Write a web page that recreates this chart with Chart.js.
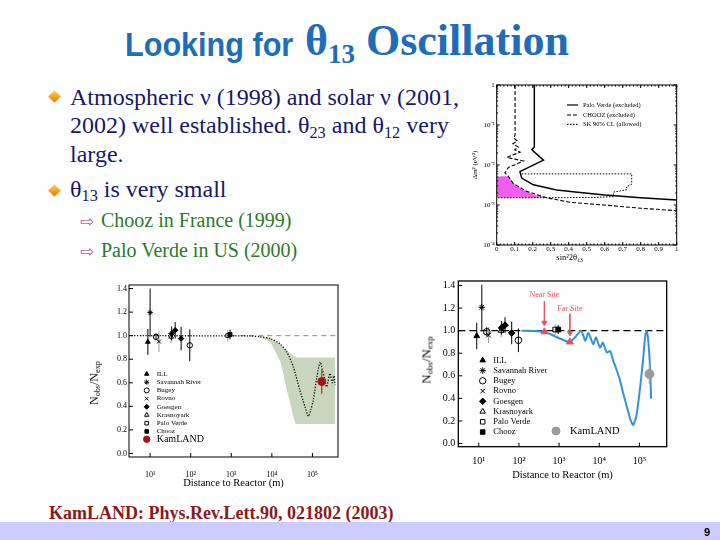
<!DOCTYPE html>
<html><head><meta charset="utf-8">
<script src="https://cdn.jsdelivr.net/npm/chart.js@4.4.1/dist/chart.umd.min.js"></script>
<style>
html,body{margin:0;padding:0;background:#fff;}
#slide{position:relative;width:720px;height:540px;overflow:hidden;background:#fff;font-family:'Liberation Serif','Times New Roman',serif;}
.t{position:absolute;white-space:nowrap;line-height:1;}
canvas{position:absolute;}
.dia{position:absolute;width:9px;height:9px;transform:rotate(45deg);background:linear-gradient(135deg,#ffd27a,#f29a1c 60%,#d97e08);}
.arr{position:absolute;font-family:'DejaVu Sans',sans-serif;font-size:17px;line-height:1;color:#c4559a;}
.b{font-size:24px;color:#17176b;}
.s{font-size:20px;color:#2a7a2a;}
.sb{font-size:0.68em;position:relative;top:0.28em;}
.yt{position:absolute;white-space:nowrap;line-height:1;transform:translate(-50%,-50%) rotate(-90deg);color:#000;}
</style></head><body>
<div id="slide">
<div class="t" style="left:125px;top:27.2px;font:bold 34px/1 'Liberation Sans',Arial,sans-serif;color:#1f6cb8;transform:scaleX(0.9);transform-origin:0 0;">Looking for</div>
<div class="t" style="left:305px;top:19.2px;font:bold 44px/1 'Liberation Serif',serif;color:#1f6cb8;">θ<span style="font-size:27px;position:relative;top:8px;">13</span> Oscillation</div>

<div class="dia" style="left:49.5px;top:92px;"></div>
<div class="t b" style="left:70px;top:84.9px;">Atmospheric ν (1998) and solar ν (2001,</div>
<div class="t b" style="left:70px;top:113.2px;">2002) well established. θ<span class="sb">23</span> and θ<span class="sb">12</span> very</div>
<div class="t b" style="left:70px;top:141.6px;">large.</div>
<div class="dia" style="left:49.5px;top:185.5px;"></div>
<div class="t b" style="left:70px;top:176.6px;">θ<span class="sb">13</span> is very small</div>
<div class="arr" style="left:80px;top:213px;">⇨</div>
<div class="t s" style="left:101px;top:210px;">Chooz in France (1999)</div>
<div class="arr" style="left:80px;top:243px;">⇨</div>
<div class="t s" style="left:101px;top:240px;">Palo Verde in US (2000)</div>

<canvas id="c1" width="219" height="190" style="left:471px;top:78px;width:219px;height:190px;"></canvas>
<canvas id="c2" width="262" height="218" style="left:84px;top:278px;width:262px;height:218px;"></canvas>
<canvas id="c3" width="272" height="212" style="left:404px;top:272px;width:272px;height:212px;"></canvas>

<div class="yt" style="left:93.5px;top:383px;font-size:12px;">N<span class="sb">obs</span>/N<span class="sb">exp</span></div>
<div class="yt" style="left:426px;top:360px;font-size:13px;">N<span class="sb">obs</span>/N<span class="sb">exp</span></div>

<div class="t" style="left:49px;top:503.9px;font-weight:bold;font-size:18px;color:#8b1a1a;">KamLAND: Phys.Rev.Lett.90, 021802 (2003)</div>
<div style="position:absolute;left:0;top:522px;width:720px;height:18px;background:#ccccff;"></div>
<div class="t" style="left:704px;top:526.2px;font:bold 11px 'Liberation Sans',Arial,sans-serif;color:#000;">9</div>
</div>

<script>
// ---------- DATA: top-right exclusion plot (sin^2 2θ13 vs Δm^2) ----------
const sinTicks = [0, 0.1, 0.2, 0.3, 0.4, 0.5, 0.6, 0.7, 0.8, 0.9, 1];
const dm2Ticks = [1e-4, 1e-3, 1e-2, 1e-1, 1];
const pvSin = [0.209, 0.209, 0.195, 0.26, 0.129, 0.139, 0.204, 0.333, 0.45, 0.6, 0.8, 1.0];
const pvDm2 = [1, 0.028, 0.024, 0.0132, 0.0068, 0.0047, 0.0032, 0.00237, 0.00209, 0.00178, 0.00152, 0.00133];
const chSin = [0.102, 0.102, 0.095, 0.115, 0.09, 0.12, 0.1, 0.13, 0.056, 0.148, 0.065, 0.046, 0.065, 0.093, 0.167, 0.28, 0.407, 0.593, 0.8, 1.0];
const chDm2 = [1, 0.0562, 0.0468, 0.0398, 0.0339, 0.0282, 0.024, 0.0209, 0.0155, 0.0126, 0.0087, 0.0063, 0.0052, 0.0034, 0.00219, 0.00151, 0.00117, 0.001, 0.00083, 0.00072];
const skSin = [0.139, 0.75, 0.75, 0.722, 0.722, 0.648, 0.648, 0.55, 0.3, 0];
const skDm2 = [0.006, 0.006, 0.0033, 0.0029, 0.0024, 0.0021, 0.00162, 0.00155, 0.00152, 0.00152];
const pinkSin = [0, 0.035, 0.065, 0.093, 0.13, 0.167, 0.22, 0.28];
const pinkTop = [0.0051, 0.0052, 0.0052, 0.0034, 0.0027, 0.00219, 0.00174, 0.00151];
const pinkBot = [0.00152, 0.00152, 0.00152, 0.00152, 0.00152, 0.00152, 0.00152, 0.00151];
const exclLegend = ['Palo Verde (excluded)', 'CHOOZ (excluded)', 'SK 90% CL (allowed)'];

// ---------- DATA: reactor experiments ----------
const expNames = ['ILL', 'Savannah River', 'Bugey', 'Rovno', 'Goesgen', 'Krasnoyark', 'Palo Verde', 'Chooz'];
const distTicks = [10, 100, 1000, 10000, 100000];
const ratioTicks = [0, 0.2, 0.4, 0.6, 0.8, 1.0, 1.2, 1.4];
// bottom-left plot
const p2Dist  = [[8.8], [10], [14, 95], [16.5], [34, 41.5, 58], [33], [820], [935]];
const p2Ratio = [[0.947], [1.196], [0.99, 0.918], [0.95], [1.018, 1.046, 0.975], [0.99], [1.0], [1.01]];
const p2Err   = [[0.11], [0.205], [0.03, 0.135], [0.09], [0.06, 0.07, 0.1], [0.05], [0.05], [0.04]];
const kamD2 = [170000], kamR2 = [0.611], kamE2 = [0.105];
const p2CurveD = [3, 2884, 5129, 9120, 15850, 23440, 33880, 48980, 66070, 79430, 91200, 104700, 128800, 154900, 173800, 195000, 223900, 269200, 309000, 338800, 363100];
const p2CurveR = [1.0, 0.997, 0.99, 0.975, 0.93, 0.86, 0.735, 0.537, 0.395, 0.316, 0.37, 0.452, 0.65, 0.777, 0.72, 0.65, 0.565, 0.68, 0.60, 0.66, 0.58];
const bandD  = [4266, 9120, 15849, 19055, 23442, 28184, 33884, 38905, 40738, 363078];
const bandHi = [1.0, 0.98, 0.925, 0.90, 0.875, 0.85, 0.83, 0.818, 0.815, 0.815];
const bandLo = [1.0, 0.947, 0.79, 0.68, 0.537, 0.43, 0.31, 0.25, 0.25, 0.25];
const unityD2 = [1000, 363078];
// bottom-right plot
const p3Dist  = [[8.9], [11.9], [15.8, 97], [17.5], [37, 45, 66], [36], [800], [953]];
const p3Ratio = [[0.953], [1.207], [0.99, 0.915], [0.96], [1.025, 1.049, 0.98], [1.0], [1.01], [1.01]];
const p3Err   = [[0.117], [0.2], [0.04, 0.105], [0.07], [0.06, 0.07, 0.1], [0.06], [0.05], [0.04]];
const kamD3 = [178000], kamR3 = [0.616], kamE3 = [0.09];
const siteNames = ['Near Site', 'Far Site'];
const siteD = [430, 1860], siteR = [0.99, 0.90];
const p3CurveD = [117, 427, 1862, 3548, 4467, 5370, 7079, 8318, 10470, 12300, 15490, 18620, 22390, 27540, 33110, 39810, 48980, 58880, 69180, 83180, 100000, 120200, 141300, 151400, 166000, 186200, 195000];
const p3CurveR = [1.0, 0.99, 0.90, 1.0, 0.91, 0.98, 0.88, 0.94, 0.85, 0.894, 0.806, 0.82, 0.733, 0.645, 0.557, 0.44, 0.323, 0.22, 0.162, 0.235, 0.44, 0.70, 0.967, 0.996, 0.91, 0.645, 0.397];
const unityD3 = [3.1, 478000];

// ---------- helpers ----------
const SUP = {'0':'⁰','1':'¹','2':'²','3':'³','4':'⁴','5':'⁵','6':'⁶','7':'⁷','8':'⁸','9':'⁹','-':'⁻'};
const sup = s => String(s).split('').map(c => SUP[c] || c).join('');
const decadeLabel = v => '10' + sup(Math.round(Math.log10(v)));
const pts = (xs, ys) => xs.map((x, i) => ({x, y: ys[i]}));
function errSegments(dists, ratios, errs) {
  const out = [];
  dists.forEach((grp, g) => grp.forEach((d, i) => {
    out.push({x: d, y: ratios[g][i] - errs[g][i]}, {x: d, y: ratios[g][i] + errs[g][i]}, {x: d, y: null});
  }));
  return out;
}
const SERIF = "'Liberation Serif','Times New Roman',serif";
Chart.defaults.font.family = SERIF;
Chart.defaults.color = '#000';

const expStyle = [
  {ps: 'triangle', fill: '#000'},
  {ps: 'star', fill: 'rgba(0,0,0,0)'},
  {ps: 'circle', fill: 'rgba(0,0,0,0)'},
  {ps: 'crossRot', fill: 'rgba(0,0,0,0)'},
  {ps: 'rectRot', fill: '#000'},
  {ps: 'triangle', fill: 'rgba(0,0,0,0)'},
  {ps: 'rect', fill: 'rgba(0,0,0,0)'},
  {ps: 'rect', fill: '#000'}
];
const errGrey = [false, false, false, true, false, true, true, false];

// ---------- plugins ----------
const framePlugin = {
  id: 'frame',
  afterDraw(chart, args, opts) {
    const {ctx, chartArea: a} = chart;
    ctx.save(); ctx.strokeStyle = '#000'; ctx.lineWidth = opts.width || 1;
    ctx.strokeRect(a.left, a.top, a.right - a.left, a.bottom - a.top);
    ctx.restore();
  }
};
const inTicksPlugin = {
  id: 'inTicks',
  afterDraw(chart, args, opts) {
    const {ctx, chartArea: a, scales} = chart;
    const xs = scales.x, ys = scales.y, L = opts.len || 4, m = opts.mirror;
    ctx.save(); ctx.strokeStyle = '#000'; ctx.lineWidth = 1; ctx.beginPath();
    const xt = (p, l) => { ctx.moveTo(p, a.bottom); ctx.lineTo(p, a.bottom - l); if (m) { ctx.moveTo(p, a.top); ctx.lineTo(p, a.top + l); } };
    const yt = (p, l) => { ctx.moveTo(a.left, p); ctx.lineTo(a.left + l, p); if (m) { ctx.moveTo(a.right, p); ctx.lineTo(a.right - l, p); } };
    xs.ticks.forEach(t => xt(xs.getPixelForValue(t.value), L));
    ys.ticks.forEach(t => yt(ys.getPixelForValue(t.value), L));
    if (opts.xMinor) {
      for (let v = xs.min; v <= xs.max + 1e-9; v += opts.xMinor) xt(xs.getPixelForValue(v), L / 2);
    }
    if (opts.logMinor) {
      for (let e = Math.floor(Math.log10(ys.min)); e < Math.log10(ys.max); e++)
        for (let k = 2; k <= 9; k++) { const v = k * Math.pow(10, e); if (v > ys.min && v < ys.max) yt(ys.getPixelForValue(v), L / 2); }
    }
    ctx.stroke(); ctx.restore();
  }
};
const legendPlugin = {
  id: 'mlegend',
  afterDatasetsDraw(chart, args, opts) {
    const {ctx, chartArea: a} = chart;
    (opts.items || []).forEach(it => {
      ctx.save();
      ctx.strokeStyle = it.stroke || '#000'; ctx.fillStyle = it.fill || '#000'; ctx.lineWidth = it.lw || 1;
      if (it.ps) {
        if (Chart.helpers && Chart.helpers.drawPoint) {
          Chart.helpers.drawPoint(ctx, {pointStyle: it.ps, radius: it.radius, rotation: 0, borderWidth: it.lw || 1}, a.left + it.mx, a.top + it.y);
        } else { ctx.beginPath(); ctx.arc(a.left + it.mx, a.top + it.y, it.radius, 0, 2 * Math.PI); ctx.fill(); ctx.stroke(); }
      }
      if (it.line) {
        ctx.setLineDash(it.dash || []); ctx.beginPath();
        ctx.moveTo(a.left + it.lx0, a.top + it.y); ctx.lineTo(a.left + it.lx1, a.top + it.y); ctx.stroke();
        ctx.setLineDash([]);
      }
      ctx.fillStyle = it.color || '#000'; ctx.font = it.font; ctx.textBaseline = 'middle'; ctx.textAlign = 'left';
      ctx.fillText(it.text, a.left + it.tx, a.top + it.y);
      ctx.restore();
    });
  }
};
const labelPlugin = {
  id: 'dlabels',
  afterDatasetsDraw(chart, args, opts) {
    const {ctx, scales} = chart;
    (opts.items || []).forEach(l => {
      ctx.save(); ctx.fillStyle = l.color; ctx.font = l.font; ctx.textAlign = 'center'; ctx.textBaseline = 'middle';
      ctx.fillText(l.text, scales.x.getPixelForValue(l.x), scales.y.getPixelForValue(l.y));
      ctx.restore();
    });
  }
};
const PLUGINS = [framePlugin, inTicksPlugin, legendPlugin, labelPlugin];
const baseOpts = (pad) => ({
  responsive: false, animation: false, events: [],
  layout: {padding: pad},
});
const hideGrid = {display: false, drawTicks: false, tickLength: 0};
const noBorder = {display: false};
const line = (data, o) => Object.assign({data, showLine: true, pointRadius: 0, fill: false, borderColor: '#000', borderWidth: 1, tension: 0}, o);

// ---------- Chart 1: exclusion plot ----------
new Chart(document.getElementById('c1'), {
  type: 'scatter',
  data: {datasets: [
    line(pts(pinkSin, pinkTop), {borderColor: 'rgba(0,0,0,0)', backgroundColor: '#f25cf2', fill: '+1', order: 10}),
    line(pts(pinkSin, pinkBot), {borderColor: 'rgba(0,0,0,0)', order: 10}),
    line(pts(skSin, skDm2), {borderDash: [1.5, 1.5], borderWidth: 1, order: 3}),
    line(pts(chSin, chDm2), {borderDash: [4, 2], borderWidth: 1.1, order: 2}),
    line(pts(pvSin, pvDm2), {borderWidth: 1.5, order: 1})
  ]},
  options: Object.assign(baseOpts({left: 0, top: 7, right: 13.3, bottom: 5}), {
    plugins: {
      legend: {display: false}, tooltip: {enabled: false},
      frame: {width: 1}, inTicks: {len: 3, mirror: true, xMinor: 0.02, logMinor: true},
      mlegend: {items: exclLegend.map((t, i) => ({line: true, lx0: 70.3, lx1: 81.3, y: [20, 30, 39.3][i], dash: [[], [4, 2], [1.5, 1.5]][i], lw: 1.2, tx: 86.3, text: t, font: "6.5px " + SERIF}))}
    },
    scales: {
      x: {type: 'linear', min: 0, max: 1,
        afterBuildTicks: s => { s.ticks = sinTicks.map(v => ({value: v})); },
        afterFit: s => { s.height = 18; },
        ticks: {autoSkip: false, maxRotation: 0, padding: 0, font: {size: 7}, callback: v => String(+(+v).toFixed(1))},
        grid: hideGrid, border: noBorder,
        title: {display: true, text: 'sin²2θ₁₃\u2003\u2003\u2003\u2003', font: {size: 8.5}, padding: 0}},
      y: {type: 'logarithmic', min: 1e-4, max: 1,
        afterBuildTicks: s => { s.ticks = dm2Ticks.map(v => ({value: v})); },
        afterFit: s => { s.width = 25.7; },
        ticks: {autoSkip: false, padding: 2, font: {size: 7}, callback: v => (v === 1 ? '1' : decadeLabel(v))},
        grid: hideGrid, border: noBorder,
        title: {display: true, text: 'Δm² (eV²)', font: {size: 7}, padding: 0}}
    }
  }),
  plugins: PLUGINS
});

// ---------- shared for reactor charts ----------
function expSets(dist, ratio, radius) {
  return expNames.map((n, g) => ({
    label: n, data: pts(dist[g], ratio[g]), showLine: false,
    pointStyle: expStyle[g].ps, pointRadius: radius, pointBackgroundColor: expStyle[g].fill,
    pointBorderColor: '#000', pointBorderWidth: 1, order: 1
  }));
}
function errSets(dist, ratio, err) {
  const db = dist.map((d, g) => errGrey[g] ? [] : d);
  const dg = dist.map((d, g) => errGrey[g] ? d : []);
  return [
    line(errSegments(db, ratio, err), {borderColor: '#000', borderWidth: 1, spanGaps: false, order: 4}),
    line(errSegments(dg, ratio, err), {borderColor: '#9a9a9a', borderWidth: 1, spanGaps: false, order: 4})
  ];
}
function reactorScales(xmin, xmax, ymin, ymax, yWidth, xHeight, tickFont, labPad, yPad, titleFont, titlePad) {
  return {
    x: {type: 'logarithmic', min: xmin, max: xmax,
      afterBuildTicks: s => { s.ticks = distTicks.map(v => ({value: v})); },
      afterFit: s => { s.height = xHeight; },
      ticks: {autoSkip: false, maxRotation: 0, padding: labPad, font: {size: tickFont}, callback: v => decadeLabel(v)},
      grid: hideGrid, border: noBorder,
      title: {display: true, text: 'Distance to Reactor (m)', font: {size: titleFont}, padding: titlePad}},
    y: {type: 'linear', min: ymin, max: ymax,
      afterBuildTicks: s => { s.ticks = ratioTicks.map(v => ({value: v})); },
      afterFit: s => { s.width = yWidth; },
      ticks: {autoSkip: false, padding: yPad, font: {size: tickFont}, callback: v => (+v).toFixed(1)},
      grid: hideGrid, border: noBorder}
  };
}

// ---------- Chart 2: world reactor data ----------
new Chart(document.getElementById('c2'), {
  type: 'scatter',
  data: {datasets: [
    line(pts(bandD, bandHi), {borderColor: 'rgba(0,0,0,0)', backgroundColor: '#c9d6be', fill: '+1', order: 10}),
    line(pts(bandD, bandLo), {borderColor: 'rgba(0,0,0,0)', order: 10}),
    line(pts(unityD2, unityD2.map(() => 1)), {borderColor: '#8a8a8a', borderDash: [5, 4], borderWidth: 1, order: 9}),
    line(pts(p2CurveD, p2CurveR), {borderColor: '#000', borderDash: [1.2, 1.6], borderWidth: 1.3, tension: 0.25, order: 8}),
    ...errSets(p2Dist, p2Ratio, p2Err),
    line(errSegments([kamD2], [kamR2], [kamE2]), {borderColor: '#a51515', borderWidth: 1, order: 4}),
    ...expSets(p2Dist, p2Ratio, 2.7),
    {label: 'KamLAND', data: pts(kamD2, kamR2), showLine: false, pointStyle: 'circle', pointRadius: 4, pointBackgroundColor: '#a51515', pointBorderColor: '#a51515', order: 0}
  ]},
  options: Object.assign(baseOpts({left: 0, top: 7, right: 8, bottom: 0}), {
    plugins: {
      legend: {display: false}, tooltip: {enabled: false},
      frame: {width: 1}, inTicks: {len: 4},
      mlegend: {items: expNames.map((n, i) => ({ps: expStyle[i].ps, fill: expStyle[i].fill, radius: 2.5, mx: 17.7, y: 89 + i * 8.2, tx: 27.7, text: n, font: "7px " + SERIF}))
        .concat([{ps: 'circle', fill: '#a51515', stroke: '#a51515', radius: 3.2, mx: 17.7, y: 154.3, tx: 27.7, text: 'KamLAND', font: "10px " + SERIF}])}
    },
    scales: reactorScales(3.02, 426600, -0.03, 1.43, 45, 39, 8, 13, 2, 10.5, 6)
  }),
  plugins: PLUGINS
});

// ---------- Chart 3: reactor data with near/far sites ----------
const RED = '#e05562';
new Chart(document.getElementById('c3'), {
  type: 'scatter',
  data: {datasets: [
    line(pts(unityD3, unityD3.map(() => 1)), {borderColor: '#000', borderDash: [7, 4], borderWidth: 1.2, order: 9}),
    line(pts(p3CurveD, p3CurveR), {borderColor: '#3593d5', borderWidth: 2, tension: 0.2, order: 7}),
    ...errSets(p3Dist, p3Ratio, p3Err),
    line(errSegments([kamD3], [kamR3], [kamE3]), {borderColor: '#a8a8a8', borderWidth: 1.5, order: 4}),
    ...expSets(p3Dist, p3Ratio, 3.3),
    {label: 'KamLAND', data: pts(kamD3, kamR3), showLine: false, pointStyle: 'circle', pointRadius: 4.5, pointBackgroundColor: '#9c9c9c', pointBorderColor: '#9c9c9c', order: 0},
    {label: 'Sites', data: pts(siteD, siteR), showLine: false, pointStyle: 'triangle', pointRadius: 4, pointBackgroundColor: RED, pointBorderColor: RED, order: 0},
    ...siteD.map((d, i) => line([{x: d, y: siteR[i] + [0.27, 0.25][i]}, {x: d, y: siteR[i] + 0.08}], {
      borderColor: RED, borderWidth: 1, pointStyle: 'triangle', pointRotation: 180,
      pointRadius: c => (c.dataIndex === 1 ? 3 : 0), pointBackgroundColor: RED, pointBorderColor: RED, order: 0}))
  ]},
  options: Object.assign(baseOpts({left: 0, top: 7, right: 9.3, bottom: 0}), {
    plugins: {
      legend: {display: false}, tooltip: {enabled: false},
      frame: {width: 1.3}, inTicks: {len: 4},
      dlabels: {items: siteNames.map((n, i) => ({text: n, x: siteD[i], y: siteR[i] + [0.33, 0.29][i], color: RED, font: "8px " + SERIF}))},
      mlegend: {items: expNames.map((n, i) => ({ps: expStyle[i].ps, fill: expStyle[i].fill, radius: 3.2, mx: 24.4, y: 79.3 + i * 10.25, tx: 35, text: n, font: "8.5px " + SERIF}))
        .concat([{ps: 'circle', fill: '#9c9c9c', stroke: '#9c9c9c', radius: 4, mx: 97.7, y: 150, tx: 111.7, text: 'KamLAND', font: "10.5px " + SERIF}])}
    },
    scales: reactorScales(3.09, 478600, -0.028, 1.44, 54.3, 37.3, 10, 9, 3, 10.5, 2)
  }),
  plugins: PLUGINS
});
</script>
</body></html>
